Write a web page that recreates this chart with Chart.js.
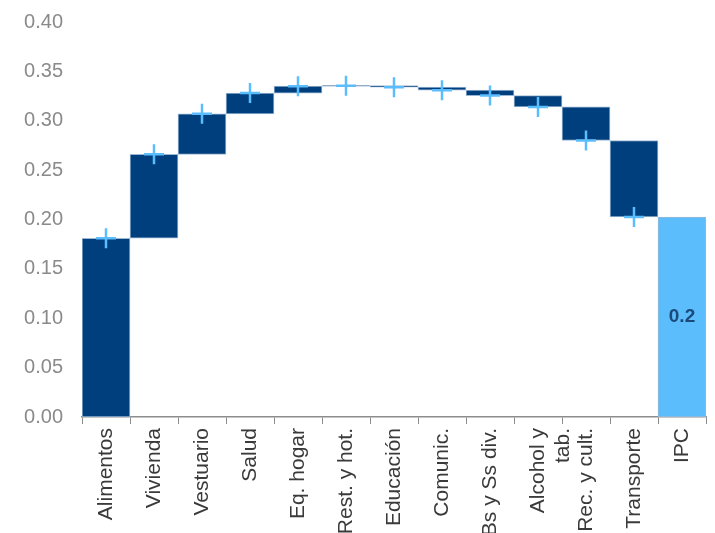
<!DOCTYPE html>
<html>
<head>
<meta charset="utf-8">
<script src="https://cdn.jsdelivr.net/npm/chart.js@4"></script>
<style>
  html, body { margin: 0; padding: 0; background: #fff; overflow: hidden; }
  #wrap { width: 715px; height: 560px; }
</style>
</head>
<body>
<div id="wrap"><canvas id="chart"></canvas></div>
<script>
// Categorías del gráfico
const categories = [
  "Alimentos", "Vivienda", "Vestuario", "Salud", "Eq. hogar", "Rest. y hot.",
  "Educación", "Comunic.", "Bs y Ss div.", ["Alcohol y", "tab."], "Rec. y cult.",
  "Transporte", "IPC"
];

// Nivel acumulado al final de cada categoría (IPC = total)
const levels = [
  0.181, 0.266, 0.307, 0.328, 0.335, 0.3355,
  0.334, 0.331, 0.3255, 0.314, 0.280, 0.2025, 0.2025
];

// Etiqueta del total
const totalLabel = "0.2";

const yTicks = [0, 0.05, 0.10, 0.15, 0.20, 0.25, 0.30, 0.35, 0.40];

const dark = "#003f7d";
const light = "#5cbdfd";

// Barras flotantes: de nivel anterior a nivel actual; IPC desde cero
const last = categories.length - 1;
const floating = levels.map((v, i) => {
  if (i === last) return [0, v];
  const prev = i === 0 ? 0 : levels[i - 1];
  return [prev, v];
});
const markers = levels.map((v, i) => (i === last ? null : v));

const totalLabelPlugin = {
  id: "totalLabel",
  afterDatasetsDraw(chart) {
    const meta = chart.getDatasetMeta(0);
    const bar = meta.data[last];
    if (!bar) return;
    const ctx = chart.ctx;
    ctx.save();
    ctx.fillStyle = "#1b4a7a";
    ctx.font = "bold 19px 'Liberation Sans', Arial, sans-serif";
    ctx.textAlign = "center";
    ctx.textBaseline = "middle";
    ctx.fillText(totalLabel, bar.x, (bar.y + bar.base) / 2);
    ctx.restore();
  }
};

const ctx = document.getElementById("chart").getContext("2d");
new Chart(ctx, {
  type: "bar",
  data: {
    labels: categories,
    datasets: [
      {
        type: "bar",
        data: floating,
        backgroundColor: categories.map((c, i) => (i === last ? light : dark)),
        borderColor: "#9ab8d6",
        borderWidth: 1,
        borderSkipped: false,
        barPercentage: 1,
        categoryPercentage: 1,
        order: 1
      },
      {
        type: "line",
        data: markers,
        showLine: false,
        pointStyle: "cross",
        pointRadius: 10,
        pointBorderWidth: 2.5,
        pointBorderColor: light,
        pointBackgroundColor: light,
        order: 0
      }
    ]
  },
  options: {
    responsive: true,
    maintainAspectRatio: false,
    animation: false,
    layout: { autoPadding: false, padding: { top: 22, right: 9, bottom: 13, left: 0 } },
    plugins: {
      legend: { display: false },
      tooltip: { enabled: false }
    },
    scales: {
      x: {
        grid: {
          display: true,
          drawOnChartArea: false,
          drawTicks: true,
          tickLength: 7,
          color: "#8c8c8c"
        },
        border: { display: true, color: "#8c8c8c", width: 1.5 },
        ticks: {
          color: "#3a3a3a",
          font: { family: "'Liberation Sans', Arial, sans-serif", size: 21 },
          maxRotation: 90,
          minRotation: 90,
          autoSkip: false,
          padding: 4
        },
        afterFit(scale) { scale.height = 130; }
      },
      y: {
        min: 0,
        max: 0.4,
        afterBuildTicks(scale) { scale.ticks = yTicks.map(v => ({ value: v })); },
        grid: { display: false, drawTicks: false },
        border: { display: false },
        ticks: {
          color: "#8a8a8a",
          font: { family: "'Liberation Sans', Arial, sans-serif", size: 20 },
          padding: 19,
          callback: v => v.toFixed(2)
        },
        afterFit(scale) {
          scale.width = 82;
          scale.paddingTop = 0;
          scale.paddingBottom = 0;
        }
      }
    }
  },
  plugins: [totalLabelPlugin]
});
</script>
</body>
</html>
